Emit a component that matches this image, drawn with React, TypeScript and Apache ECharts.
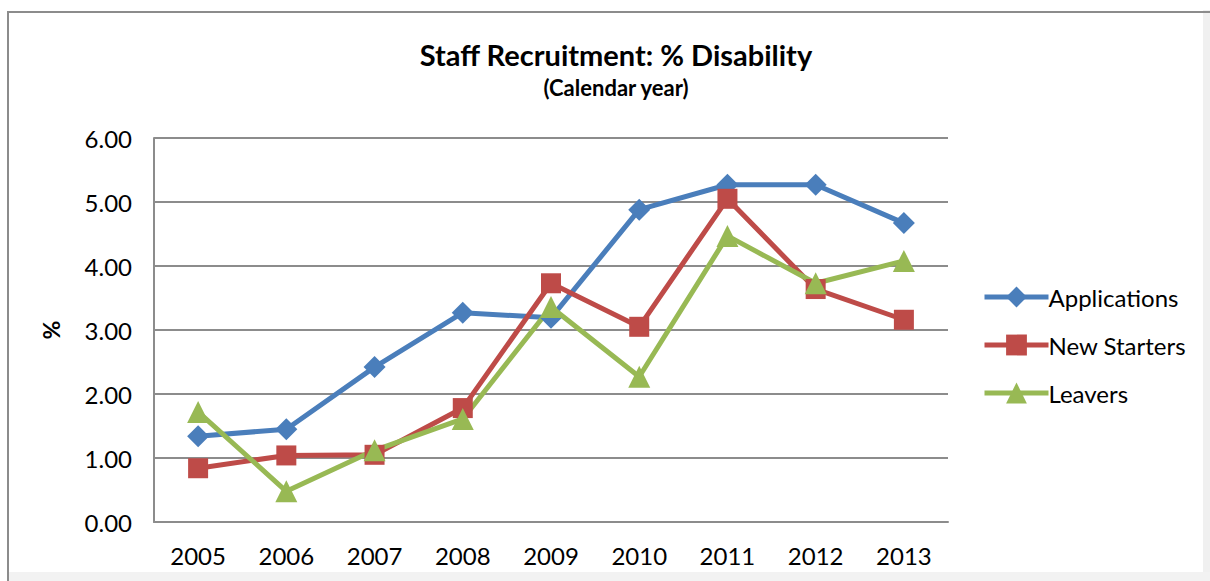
import React, { useEffect, useRef } from "react";
import * as echarts from "echarts";

const years = ["2005", "2006", "2007", "2008", "2009", "2010", "2011", "2012", "2013"];
const applications = [1.34, 1.45, 2.42, 3.27, 3.19, 4.88, 5.27, 5.27, 4.67];
const newStarters = [0.84, 1.04, 1.05, 1.78, 3.73, 3.05, 5.05, 3.64, 3.16];
const leavers = [1.72, 0.48, 1.12, 1.61, 3.36, 2.27, 4.47, 3.73, 4.08];
const yTicks = [0, 1, 2, 3, 4, 5, 6];

const FONT = "Lato, 'Open Sans', sans-serif";

export default function App() {
  const ref = useRef<HTMLDivElement>(null);
  useEffect(() => {
    if (!ref.current) return;
    const chart = echarts.init(ref.current, undefined, { renderer: "svg" });
    const mk = (name: string, data: number[], color: string, symbol: string, size: number) => ({
      name,
      type: "line",
      data,
      symbol,
      symbolSize: size,
      showSymbol: true,
      lineStyle: { color, width: 5 },
      itemStyle: { color },
    });
    chart.setOption({
      animation: false,
      backgroundColor: "#ffffff",
      graphic: [
        {
          type: "rect",
          shape: { x: 1203, y: 10, width: 7, height: 571 },
          style: { fill: "#f0f0f0" },
          silent: true,
        },
        {
          type: "rect",
          shape: { x: 9, y: 572, width: 1201, height: 9 },
          style: { fill: "#f2f2f2" },
          silent: true,
        },
        {
          type: "polyline",
          shape: { points: [[8, 590], [8, 12], [1215, 12]] },
          style: { stroke: "#8c8c8c", lineWidth: 2, fill: "none" },
          silent: true,
        },
      ],
      title: {
        text: "Staff Recruitment: % Disability",
        subtext: "(Calendar year)",
        left: 611,
        textAlign: "center",
        top: 35,
        itemGap: 7,
        textStyle: { fontFamily: FONT, fontSize: 29, fontWeight: "bold", color: "#000" },
        subtextStyle: { fontFamily: FONT, fontSize: 22, fontWeight: "bold", color: "#000" },
      },
      legend: {
        orient: "vertical",
        left: 977,
        top: 280,
        itemGap: 24,
        itemWidth: 64,
        itemHeight: 26,
        data: ["Applications", "New Starters", "Leavers"],
        lineStyle: { width: 5 },
        textStyle: { fontFamily: FONT, fontSize: 24, color: "#000", padding: [0, 0, 0, -5] },
      },
      grid: { left: 154, top: 138, width: 794, height: 384, containLabel: false },
      xAxis: {
        type: "category",
        data: years,
        boundaryGap: true,
        axisLine: { show: true, lineStyle: { color: "#8c8c8c", width: 2 } },
        axisTick: { show: false },
        axisLabel: { fontFamily: FONT, fontSize: 24, color: "#000", margin: 21 },
      },
      yAxis: {
        type: "value",
        min: 0,
        max: 6,
        interval: 1,
        name: "%",
        nameLocation: "middle",
        nameGap: 92,
        nameRotate: 90,
        nameTextStyle: { fontFamily: FONT, fontSize: 23, fontWeight: "bold", color: "#000" },
        axisLine: { show: true, lineStyle: { color: "#8c8c8c", width: 2 } },
        axisTick: { show: true, length: 0 },
        axisLabel: {
          fontFamily: FONT,
          fontSize: 24,
          color: "#000",
          margin: 22,
          formatter: (v: number) => (yTicks.includes(v) ? v.toFixed(2) : ""),
        },
        splitLine: { show: true, lineStyle: { color: "#8c8c8c", width: 2 } },
      },
      series: [
        mk("Applications", applications, "#4a7ebb", "diamond", 22),
        mk("New Starters", newStarters, "#be4b48", "rect", 20),
        mk("Leavers", leavers, "#98b954", "triangle", 22),
      ],
    });
    return () => chart.dispose();
  }, []);
  return (
    <div
      ref={ref}
      style={{ position: "fixed", left: 0, top: 0, width: 1210, height: 581 }}
    />
  );
}
